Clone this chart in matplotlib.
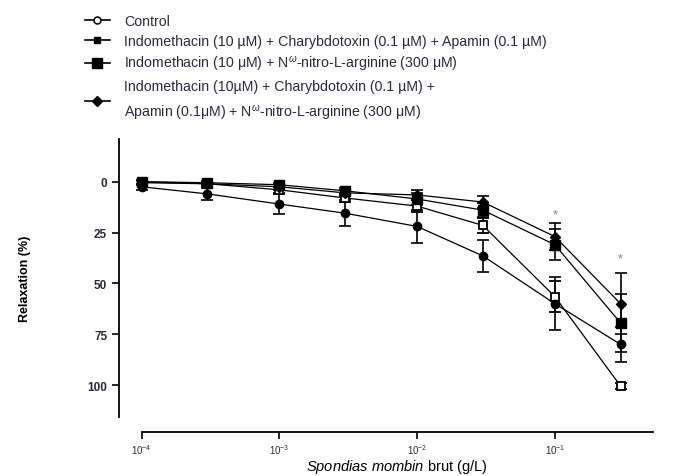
import matplotlib
matplotlib.use("Agg")
import matplotlib.pyplot as plt
from matplotlib.lines import Line2D
import numpy as np

plt.rcParams['font.family'] = ['Liberation Sans', 'DejaVu Sans']
plt.rcParams['mathtext.fontset'] = 'custom'
plt.rcParams['mathtext.rm'] = 'Liberation Sans'
plt.rcParams['mathtext.it'] = 'Liberation Sans:italic'
plt.rcParams['mathtext.bf'] = 'Liberation Sans:bold'

# concentrations (g/L)
conc = [1e-4, 3e-4, 1e-3, 3e-3, 1e-2, 3e-2, 1e-1, 3e-1]

control = [0, 1, 4, 8, 12, 21.5, 56.5, 100.5]
control_err = [1, 1, 1.5, 2, 3, 3.5, 7.5, 1.5]

indo_chtx_apa = [2.5, 6, 11, 15.5, 22, 36.5, 60, 80]
indo_chtx_apa_err = [1.5, 3, 5, 6.5, 8, 8, 13, 8.5]

indo_lnna = [0, 0.5, 1.5, 4.5, 8.5, 14, 31, 69.5]
indo_lnna_err = [1, 1, 1, 1.5, 3, 3.5, 7.5, 14.5]

indo_all = [0.5, 1, 2.5, 5.5, 6.5, 10, 27, 60]
indo_all_err = [1, 1, 1.5, 1.5, 2.5, 3, 6.5, 15]

labels = [
    "Control",
    "Indomethacin (10 \u00b5M) + Charybdotoxin (0.1 \u00b5M) + Apamin (0.1 \u00b5M)",
    r"Indomethacin (10 $\mathregular{\mu}$M) + N$^{\omega}$-nitro-L-arginine (300 $\mathregular{\mu}$M)",
    "Indomethacin (10\u00b5M) + Charybdotoxin (0.1 \u00b5M) +\n"
    r"Apamin (0.1$\mathregular{\mu}$M) + N$^{\omega}$-nitro-L-arginine (300 $\mathregular{\mu}$M)",
]

yticks = [0, 25, 50, 75, 100]
xticks = [1e-4, 1e-3, 1e-2, 1e-1]
xticklabels = [r"$\mathregular{10^{-4}}$", r"$\mathregular{10^{-3}}$",
               r"$\mathregular{10^{-2}}$", r"$\mathregular{10^{-1}}$"]

# asterisks (x, y)
star_x = [1e-1, 3e-1]
star_y = [16, 37.5]

fig = plt.figure(figsize=(6.8, 4.77), dpi=100)
ax = fig.add_axes([119/680, 1-433/477, 534/680, 293/477])

styles = [
    dict(marker='s', ms=6, mfc='white', mec='black', mew=1.3),
    dict(marker='o', ms=6, mfc='black', mec='black'),
    dict(marker='s', ms=7.5, mfc='black', mec='black'),
    dict(marker='D', ms=5.5, mfc='black', mec='black'),
]
data = [(control, control_err), (indo_chtx_apa, indo_chtx_apa_err),
        (indo_lnna, indo_lnna_err), (indo_all, indo_all_err)]
for (vals, err), mk in zip(data, styles):
    ax.errorbar(conc, vals, yerr=err, color='black', lw=0.9, elinewidth=1.2,
                capsize=4, capthick=1.2, **mk)

for sx, sy in zip(star_x, star_y):
    ax.text(sx, sy, '*', ha='center', va='center', fontsize=9, color='#8a7a9a')

ax.set_xscale('log')
ax.set_xlim(6.84e-5, 0.516)
ax.set_ylim(123.1, -21)
ax.spines['top'].set_visible(False)
ax.spines['right'].set_visible(False)
ax.spines['left'].set_bounds(-21, 115.7)
ax.spines['bottom'].set_bounds(1e-4, 0.516)
ax.spines['left'].set_linewidth(1.3)
ax.spines['bottom'].set_linewidth(1.3)

ax.set_yticks(yticks)
ax.set_yticklabels([str(t) for t in yticks], fontweight='bold', fontsize=8.5, color='#2a2a3a')
ax.set_xticks(xticks)
ax.set_xticklabels(xticklabels, fontsize=7, color='#2a2a3a')
ax.xaxis.set_minor_locator(matplotlib.ticker.NullLocator())
ax.tick_params(axis='both', direction='out', length=5, width=1.2)
ax.tick_params(axis='x', pad=2)

ax.set_xlabel(r"$\it{Spondias\ mombin}$ brut (g/L)", fontsize=10.5)
ax.xaxis.set_label_coords((397-119)/534, -(458-433)/293)
ax.set_ylabel("Relaxation (%)", fontweight='bold', fontsize=9)
ax.yaxis.set_label_coords(-(119-31)/534, (433-279)/293)

leg_styles = [
    dict(marker='o', ms=5, mfc='white', mec='black', mew=1.1),
    dict(marker='s', ms=5, mfc='black', mec='black'),
    dict(marker='s', ms=7, mfc='black', mec='black'),
    dict(marker='D', ms=5, mfc='black', mec='black'),
]
handles = [Line2D([], [], color='black', lw=1.2, **s) for s in leg_styles]
leg = fig.legend(handles=handles, labels=labels, loc='upper left',
                 bbox_to_anchor=(85/680, 1-15/477), frameon=False, fontsize=10.2,
                 handlelength=1.75, handletextpad=1.0, labelspacing=0.42,
                 borderaxespad=0, borderpad=0)
for t in leg.get_texts():
    t.set_color('#2a2a3a')
leg.get_texts()[3].set_linespacing(1.7)

fig.savefig("out.png", dpi=100)
